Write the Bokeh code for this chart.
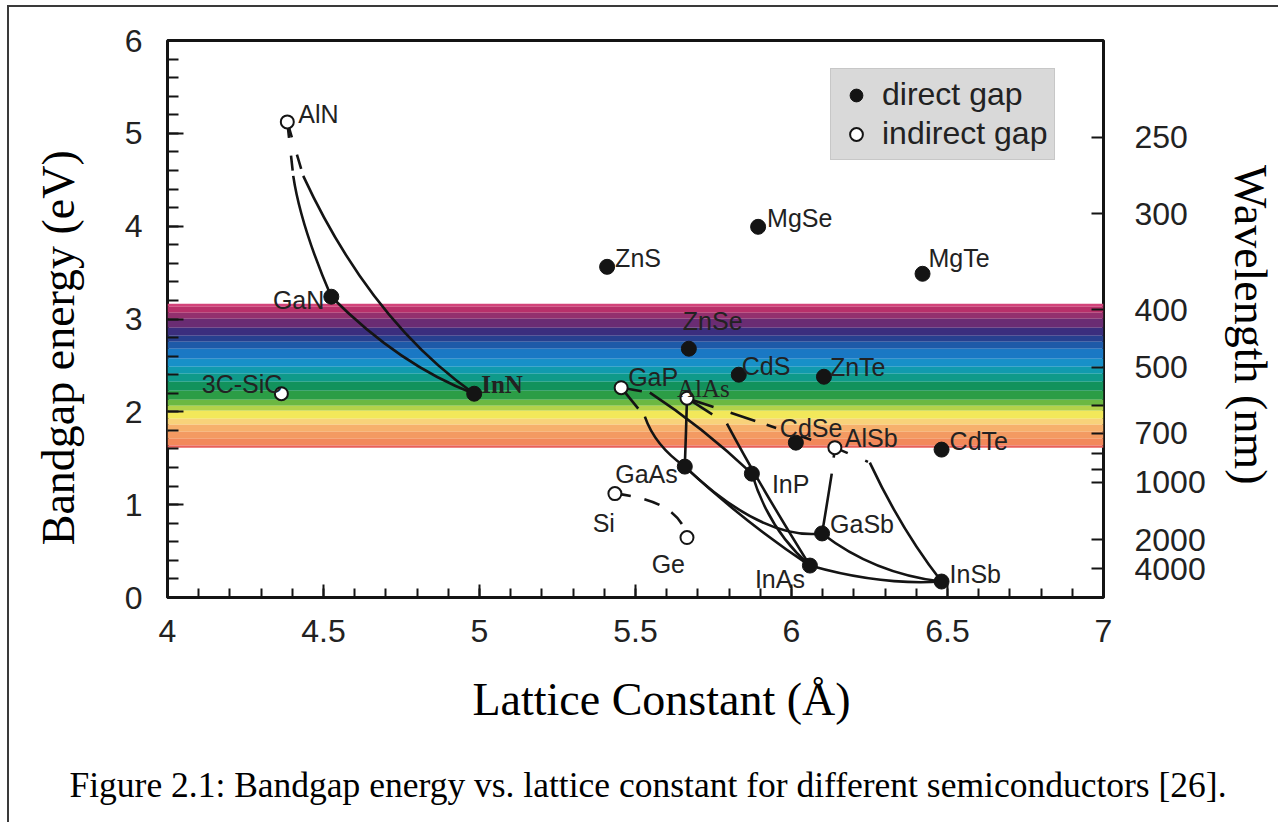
import math
from bokeh.plotting import figure
from bokeh.models import (ColumnDataSource, FixedTicker, LinearAxis,
                          CustomJSTickFormatter, Legend, LegendItem, Title)
from bokeh.core.properties import value
from bokeh.embed import file_html
from bokeh.resources import INLINE

# ---------------- data ----------------
direct_names = ["GaN", "InN", "ZnS", "MgSe", "MgTe", "ZnSe", "CdS", "ZnTe",
                "CdSe", "CdTe", "GaAs", "InP", "GaSb", "InAs", "InSb"]
direct_a = [4.525, 4.983, 5.409, 5.893, 6.420, 5.671, 5.831, 6.104,
            6.014, 6.481, 5.658, 5.873, 6.098, 6.059, 6.481]
direct_eg = [3.24, 2.195, 3.562, 3.993, 3.487, 2.680, 2.400, 2.378,
             1.668, 1.593, 1.410, 1.334, 0.690, 0.344, 0.172]

indirect_names = ["AlN", "3C-SiC", "GaP", "AlAs", "AlSb", "Si", "Ge"]
indirect_a = [4.384, 4.365, 5.454, 5.665, 6.139, 5.434, 5.665]
indirect_eg = [5.123, 2.195, 2.260, 2.147, 1.614, 1.119, 0.646]

# ternary alloy curves (solid = direct gap part), quadratic: start, control, end
alloy_names = ["AlGaN", "InGaN", "AlInN", "GaAsP", "GaInP", "AlGaAs", "AlInAs",
               "InAsP", "InGaAs", "GaAsSb", "GaInSb", "InAsSb", "AlGaSb", "AlInSb"]
alloy_x0 = [4.403, 4.525, 4.435, 5.530, 5.546, 5.665, 5.793, 5.873, 5.658, 5.658, 6.098, 6.059, 6.129, 6.251]
alloy_y0 = [4.542, 3.240, 4.542, 1.948, 2.206, 2.147, 1.873, 1.334, 1.410, 1.410, 0.690, 0.344, 1.334, 1.453]
alloy_cx = [4.427, 4.746, 4.650, 5.562, 5.710, 5.662, 5.899, 5.927, 5.851, 5.908, 6.264, 6.283, 6.114, 6.353]
alloy_cy = [4.003, 2.497, 2.981, 1.636, 1.846, 1.779, 1.205, 0.732, 0.807, 0.613, 0.258, 0.129, 1.012, 0.721]
alloy_x1 = [4.525, 4.983, 4.983, 5.658, 5.873, 5.658, 6.059, 6.059, 6.059, 6.098, 6.481, 6.481, 6.098, 6.481]
alloy_y1 = [3.240, 2.195, 2.195, 1.410, 1.334, 1.410, 0.344, 0.344, 0.344, 0.690, 0.172, 0.172, 0.690, 0.172]

# indirect-gap (dashed) parts of the alloy curves, straight
ind_x0 = [4.384, 4.384, 5.454, 5.454, 5.665, 5.665, 6.139, 6.139]
ind_y0 = [5.123, 5.123, 2.260, 2.260, 2.147, 2.147, 1.614, 1.614]
ind_x1 = [4.403, 4.435, 5.530, 5.546, 6.139, 5.793, 6.129, 6.251]
ind_y1 = [4.542, 4.542, 1.948, 2.206, 1.614, 1.873, 1.334, 1.453]

# SiGe (dashed, curved)
sige_x0, sige_y0, sige_cx, sige_cy, sige_x1, sige_y1 = 5.434, 1.119, 5.6425, 1.044, 5.665, 0.646

# visible-spectrum colour band (eV)
band_lo = [3.132, 3.067, 3.003, 2.906, 2.820, 2.755, 2.680, 2.572, 2.486, 2.411, 2.325,
           2.228, 2.131, 2.066, 2.012, 1.926, 1.862, 1.786, 1.711, 1.636, 1.614]
band_hi = [3.164, 3.132, 3.067, 3.003, 2.906, 2.820, 2.755, 2.680, 2.572, 2.486, 2.411,
           2.325, 2.228, 2.131, 2.066, 2.012, 1.926, 1.862, 1.786, 1.711, 1.636]
band_colors = ["#d2437a", "#b8306a", "#93306e", "#6a2c73", "#3b2e7e", "#27408f", "#1e5aa8",
               "#1a78c4", "#1890c8", "#119aae", "#0f9a8a", "#12925c", "#2c9d46", "#6cb842",
               "#b4d24a", "#f2e85a", "#f8d27a", "#f6b06c", "#f39a62", "#f2885a", "#e8605a"]

# axis ticks
energy_ticks = [0, 1, 2, 3, 4, 5, 6]
lattice_ticks = [4, 4.5, 5, 5.5, 6, 6.5, 7]
wl_major = [250, 300, 400, 500, 700, 1000, 2000, 4000]
wl_minor = [600, 800, 900]

# ---------------- layout / style (not data) ----------------
dash_styles = ["16 18 15 10", "16 18 15 10", "27 20", "21 12",
               "28 18 26 12 10 26 11 30", "30 20", "10 20", "14 19 3 10"]
label_names = ["AlN", "GaN", "InN", "3C-SiC", "ZnS", "MgSe", "MgTe", "ZnSe", "CdS", "ZnTe",
               "GaP", "AlAs", "CdSe", "AlSb", "CdTe", "GaAs", "InP", "Si", "Ge", "GaSb",
               "InAs", "InSb"]
label_dx = [11, -7, 7, 1, 8, 9, 6, -6, 3, 6, 7, -10, -16, 10, 8, -7, 20, 0, -2, 8, -5, 8]
label_dy = [-8, 3, -9, -10, -9, -9, -16, -28, -9, -10, -11, -10, -15, -10, -9, 7, 10, 29, 26, -9, 13, -8]
label_side = ["left", "right", "left", "right", "left", "left", "left", "left", "left", "left",
              "left", "left", "left", "left", "left", "right", "left", "right", "right", "left",
              "right", "left"]
label_font = ["sans", "sans", "serifbold", "sans", "sans", "sans", "sans", "sans", "sans", "sans",
              "sans", "serif", "sans", "sans", "sans", "sans", "sans", "sans", "sans", "sans",
              "sans", "sans"]

INK = "#141414"
SANS = "Liberation Sans"
SERIF = "Liberation Serif"
NBSP = "\u00a0"

p = figure(width=1278, height=822, x_range=(4, 7), y_range=(0, 6),
           output_backend="svg", toolbar_location=None,
           min_border_left=167, min_border_right=174, min_border_top=40, min_border_bottom=225)
p.styles = {"box-shadow": "inset 7px 5px 0px 0px #ffffff, inset 9px 7px 0px 0px #3a3a3a"}
p.background_fill_color = "white"
p.border_fill_alpha = 0
p.outline_line_color = INK
p.outline_line_width = 3
p.xgrid.grid_line_color = None
p.ygrid.grid_line_color = None

# axes
xa = p.xaxis[0]
xa.ticker = FixedTicker(ticks=lattice_ticks,
                        minor_ticks=[4 + i * 0.1 for i in range(31)])
xa.formatter = CustomJSTickFormatter(code="return String(tick);")
ya = p.yaxis[0]
ya.ticker = FixedTicker(ticks=energy_ticks,
                        minor_ticks=[i * 0.2 for i in range(31)])

wa = LinearAxis(ticker=FixedTicker(ticks=[1240.0 / w for w in wl_major],
                                   minor_ticks=[1240.0 / w for w in wl_minor]),
                formatter=CustomJSTickFormatter(code="return Math.round(1240 / tick).toString();"))
p.add_layout(wa, "right")

for ax in (xa, ya, wa):
    ax.axis_line_color = None
    ax.major_tick_line_color = INK
    ax.minor_tick_line_color = INK
    ax.major_tick_line_width = 2
    ax.minor_tick_line_width = 2
    ax.major_tick_out = 0
    ax.minor_tick_out = 0
    ax.major_label_text_font = SANS
    ax.major_label_text_font_size = "32px"
    ax.major_label_text_color = "#222222"
    ax.axis_label_text_font = SERIF
    ax.axis_label_text_font_size = "46px"
    ax.axis_label_text_font_style = "normal"
    ax.axis_label_text_color = "black"
xa.major_tick_in = 13
xa.minor_tick_in = 9
xa.major_label_standoff = 22
ya.major_tick_in = 16
ya.minor_tick_in = 11
ya.major_label_standoff = 25
ya.axis_label = "Bandgap energy (eV)" + NBSP * 5
ya.axis_label_standoff = 38
wa.major_tick_in = 12
wa.minor_tick_in = 12
wa.major_label_standoff = 31
wa.axis_label = NBSP + "Wavelength (nm)"
wa.axis_label_standoff = 16

# colour band
p.quad(left=4, right=7, bottom=band_lo, top=band_hi, fill_color=band_colors,
       line_color=None)

# alloy curves
p.quadratic(x0=alloy_x0, y0=alloy_y0, cx=alloy_cx, cy=alloy_cy, x1=alloy_x1, y1=alloy_y1,
            line_color=INK, line_width=2.6)
for i in range(len(ind_x0)):
    p.line([ind_x0[i], ind_x1[i]], [ind_y0[i], ind_y1[i]], line_color=INK,
           line_width=2.6, line_dash=dash_styles[i])
p.quadratic(x0=[sige_x0], y0=[sige_y0], cx=[sige_cx], cy=[sige_cy], x1=[sige_x1], y1=[sige_y1],
            line_color=INK, line_width=2.6, line_dash="16 14")

# points
r_dir = p.scatter(direct_a, direct_eg, size=15, marker="circle", fill_color=INK, line_color=INK)
r_ind = p.scatter(indirect_a, indirect_eg, size=13, marker="circle", fill_color="white",
                  line_color=INK, line_width=2)

# point labels
pos = dict(zip(direct_names + indirect_names, zip(direct_a + indirect_a, direct_eg + indirect_eg)))
groups = {}
for n, dx, dy, side, f in zip(label_names, label_dx, label_dy, label_side, label_font):
    groups.setdefault((side, f), {"x": [], "y": [], "t": [], "dx": [], "dy": []})
    g = groups[(side, f)]
    g["x"].append(pos[n][0]); g["y"].append(pos[n][1]); g["t"].append(n)
    g["dx"].append(dx); g["dy"].append(dy)
for (side, f), g in groups.items():
    src = ColumnDataSource(g)
    font = SANS if f == "sans" else SERIF
    style = "bold" if f == "serifbold" else "normal"
    p.text(x="x", y="y", text="t", x_offset="dx", y_offset="dy", source=src,
           text_align=side, text_baseline="alphabetic", text_font=value(font),
           text_font_style=style, text_font_size=value("25px"), text_color="#222222")

# legend
legend = Legend(items=[LegendItem(label="direct gap", renderers=[r_dir]),
                       LegendItem(label="indirect gap", renderers=[r_ind])],
                location=(663, 437))
legend.background_fill_color = "#d9d9d9"
legend.background_fill_alpha = 1
legend.border_line_color = "#b5b5b5"
legend.border_line_width = 1
legend.label_text_font = SANS
legend.label_text_font_size = "32px"
legend.label_text_color = "#222222"
legend.glyph_width = 36
legend.glyph_height = 32
legend.label_height = 32
legend.label_standoff = 8
legend.padding = 7
legend.spacing = 2
legend.margin = 0
p.add_layout(legend)

# x title and caption below the x axis
t_x = Title(text="Lattice Constant (\u00c5)", align="left", offset=305, standoff=58,
            vertical_align="top", text_font=SERIF, text_font_size="46px",
            text_font_style="normal", text_color="black")
p.add_layout(t_x, "below")
t_cap = Title(text="Figure 2.1: Bandgap energy vs. lattice constant for different semiconductors [26].",
              align="left", offset=-98, standoff=19, vertical_align="top",
              text_font=SERIF, text_font_size="35.5px", text_font_style="normal",
              text_color="black")
p.add_layout(t_cap, "below")

open("out.html", "w").write(file_html(p, INLINE))
